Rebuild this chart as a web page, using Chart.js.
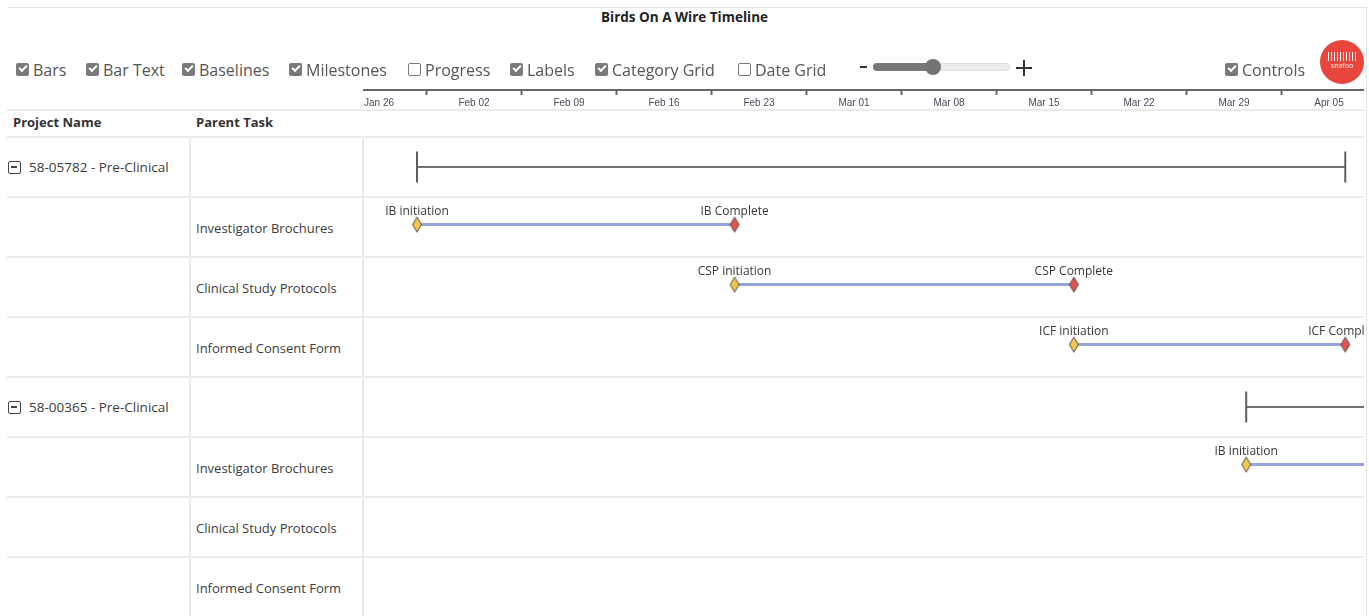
<!DOCTYPE html>
<html>
<head>
<meta charset="utf-8">
<title>Birds On A Wire Timeline</title>
<script src="https://cdn.jsdelivr.net/npm/chart.js@4.4.1/dist/chart.umd.min.js"></script>
<style>
  body { margin: 0; width: 1369px; height: 616px; overflow: hidden; background: #fff; position: relative; font-family: "Open Sans", sans-serif; }
  .abs { position: absolute; }
  .hl { position: absolute; height: 2px; background: #ebebeb; }
  .vl { position: absolute; width: 2px; background: #ebebeb; }
  #title { top: 9px; left: 0; width: 1369px; text-align: center; font-weight: bold; font-size: 13.5px; line-height: 16px; color: #222; }
  .opt { position: absolute; top: 59px; height: 22px; font-size: 16px; line-height: 22px; color: #555; white-space: nowrap; }
  .opt .cb { position: absolute; left: 0; top: 4px; width: 13px; height: 13px; border-radius: 2px; box-sizing: border-box; }
  .opt .cb.on { background: #7a7a7a; }
  .opt .cb.on::after { content: ""; position: absolute; left: 3px; top: 2px; width: 6px; height: 3px; border-left: 2px solid #fff; border-bottom: 2px solid #fff; transform: rotate(-45deg); }
  .opt .cb.off { background: #fff; border: 1px solid #777; }
  .opt .lbl { position: absolute; left: 17px; top: 0; }
  .cell { position: absolute; font-size: 13px; line-height: 18px; color: #3c3c3c; white-space: nowrap; }
  .cell.proj { font-size: 13.5px; }
  .head { font-weight: bold; color: #333; }
  .toggle { position: absolute; width: 13px; height: 13px; border: 1.6px solid #444; border-radius: 2px; box-sizing: border-box; }
  .toggle::after { content: ""; position: absolute; left: 2px; top: 4px; width: 6px; height: 1.6px; background: #444; }
  #chartBox { position: absolute; left: 363px; top: 80px; }
</style>
</head>
<body>
<div id="chartBox"><canvas id="timeline" width="1001" height="537"></canvas></div>

<div class="abs" style="left:7px;top:7px;width:1360px;height:1px;background:#e4e4e4"></div>
<div class="abs" style="left:1366px;top:7px;width:1px;height:609px;background:#e4e4e4"></div>
<div id="title" class="abs">Birds On A Wire Timeline</div>

<div class="opt" style="left:16px"><span class="cb on"></span><span class="lbl">Bars</span></div>
<div class="opt" style="left:86px"><span class="cb on"></span><span class="lbl">Bar Text</span></div>
<div class="opt" style="left:182px"><span class="cb on"></span><span class="lbl">Baselines</span></div>
<div class="opt" style="left:289px"><span class="cb on"></span><span class="lbl">Milestones</span></div>
<div class="opt" style="left:408px"><span class="cb off"></span><span class="lbl">Progress</span></div>
<div class="opt" style="left:510px"><span class="cb on"></span><span class="lbl">Labels</span></div>
<div class="opt" style="left:595px"><span class="cb on"></span><span class="lbl">Category Grid</span></div>
<div class="opt" style="left:738px"><span class="cb off"></span><span class="lbl">Date Grid</span></div>
<div class="opt" style="left:1225px"><span class="cb on"></span><span class="lbl">Controls</span></div>

<!-- zoom slider -->
<div class="abs" style="left:860px;top:66px;width:7px;height:2px;background:#333"></div>
<div class="abs" style="left:873px;top:63px;width:137px;height:8px;border-radius:4px;background:#ececec;border:1px solid #dcdcdc;box-sizing:border-box"></div>
<div class="abs" style="left:873px;top:63px;width:60px;height:8px;border-radius:4px;background:#787878"></div>
<div class="abs" style="left:925px;top:59px;width:16px;height:16px;border-radius:50%;background:#737373"></div>
<div class="abs" style="left:1016px;top:67px;width:16px;height:2px;background:#333"></div>
<div class="abs" style="left:1023px;top:60px;width:2px;height:16px;background:#333"></div>

<!-- logo -->
<div class="abs" style="left:1320px;top:40px;width:44px;height:44px;border-radius:50%;background:#e8463c">
  <div class="abs" style="left:8px;top:12px;width:28px;height:9px;background:repeating-linear-gradient(90deg,#fff 0 1.5px,transparent 1.5px 3px)"></div>
  <div class="abs" style="left:0;top:21px;width:44px;text-align:center;font-size:7px;line-height:9px;color:#fff">snafoo</div>
</div>

<!-- table header -->
<div class="hl" style="left:7px;top:109px;width:1358px"></div>
<div class="cell head" style="left:13px;top:113px">Project Name</div>
<div class="cell head" style="left:196px;top:113px">Parent Task</div>
<div id="table"></div>

<script>
// timeline axis: days counted from Jan 26
const tickLabels = ['Jan 26', 'Feb 02', 'Feb 09', 'Feb 16', 'Feb 23', 'Mar 01', 'Mar 08', 'Mar 15', 'Mar 22', 'Mar 29', 'Apr 05'];
const tickDays = [0, 7, 14, 21, 28, 35, 42, 49, 56, 63, 70];
const weekMarks = [3.5, 10.5, 17.5, 24.5, 31.5, 38.5, 45.5, 52.5, 59.5, 66.5];
const dayMin = -1.18;
const dayMax = 72.58;

// categories
const projects = ['58-05782 - Pre-Clinical', '58-00365 - Pre-Clinical'];
const tasks = ['Investigator Brochures', 'Clinical Study Protocols', 'Informed Consent Form'];
const startLabels = ['IB initiation', 'CSP initiation', 'ICF initiation'];
const endLabels = ['IB Complete', 'CSP Complete', 'ICF Complete'];

// baselines per project
const baselineStart = [2.8, 63.9];
const baselineEnd = [71.2, 131];

// milestones per project and task (null = none)
const initiation = [[2.8, 26.2, 51.2], [63.9, null, null]];
const completion = [[26.2, 51.2, 71.2], [87.3, null, null]];

const rowPx = 60;
const headerPx = 47;
const rowCount = projects.length * (tasks.length + 1);
const rowLines = [];
for (let i = 0; i <= rowCount; i++) rowLines.push(i);

// left table
const table = document.getElementById('table');
let html = '';
for (let i = 0; i < rowCount; i++) {
  html += '<div class="hl" style="left:7px;top:' + (136 + i * rowPx) + 'px;width:356px"></div>';
}
html += '<div class="vl" style="left:189px;top:137px;height:480px"></div>';
html += '<div class="vl" style="left:362px;top:137px;height:480px"></div>';
projects.forEach((p, pi) => {
  const top = 137 + pi * (tasks.length + 1) * rowPx;
  html += '<div class="toggle" style="left:8px;top:' + (top + 24) + 'px"></div>';
  html += '<div class="cell proj" style="left:29px;top:' + (top + 21) + 'px">' + p + '</div>';
  tasks.forEach((t, ti) => {
    html += '<div class="cell" style="left:196px;top:' + (top + (ti + 1) * rowPx + 22) + 'px">' + t + '</div>';
  });
});
table.innerHTML = html;

function diamond(fill) {
  const c = document.createElement('canvas');
  c.width = 12;
  c.height = 18;
  const g = c.getContext('2d');
  g.beginPath();
  g.moveTo(6, 1.5);
  g.lineTo(10.5, 9);
  g.lineTo(6, 16.5);
  g.lineTo(1.5, 9);
  g.closePath();
  g.fillStyle = fill;
  g.fill();
  g.strokeStyle = '#4f4f4f';
  g.lineWidth = 1;
  g.stroke();
  return c;
}
const startMark = diamond('#f1c84b');
const endMark = diamond('#e5534b');

const datasets = [];
projects.forEach((p, pi) => {
  const row = pi * (tasks.length + 1);
  datasets.push({
    data: [{x: baselineStart[pi], y: row + 0.5}, {x: baselineEnd[pi], y: row + 0.5}],
    borderColor: '#444',
    borderWidth: 1.5,
    pointStyle: 'line',
    pointRotation: 90,
    pointRadius: 15.5,
    pointBorderColor: '#5e5e5e',
    pointBorderWidth: 2
  });
  tasks.forEach((t, ti) => {
    if (initiation[pi][ti] == null) return;
    const y = row + 1 + ti + 0.46;
    datasets.push({
      data: [{x: initiation[pi][ti], y: y}, {x: completion[pi][ti], y: y}],
      borderColor: '#93a4dc',
      borderWidth: 3,
      pointStyle: c => (c.dataIndex === 0 ? startMark : endMark),
      pointRadius: 6,
      milestoneLabels: [startLabels[ti], endLabels[ti]]
    });
  });
});

const milestoneText = {
  id: 'milestoneText',
  afterDatasetsDraw(chart) {
    const {ctx, chartArea: a} = chart;
    ctx.save();
    ctx.beginPath();
    ctx.rect(a.left, a.top, a.right - a.left, a.bottom - a.top);
    ctx.clip();
    ctx.font = '12px "Open Sans"';
    ctx.fillStyle = '#383838';
    ctx.textAlign = 'center';
    ctx.textBaseline = 'middle';
    chart.data.datasets.forEach((ds, i) => {
      if (!ds.milestoneLabels) return;
      chart.getDatasetMeta(i).data.forEach((pt, j) => {
        ctx.fillText(ds.milestoneLabels[j], pt.x, pt.y - 13.5);
      });
    });
    ctx.restore();
  }
};

const allTicks = tickDays.concat(weekMarks).sort((a, b) => a - b);

new Chart(document.getElementById('timeline'), {
  type: 'line',
  data: {datasets: datasets},
  plugins: [milestoneText],
  options: {
    responsive: false,
    animation: false,
    devicePixelRatio: 1,
    events: [],
    layout: {padding: 0, autoPadding: false},
    plugins: {legend: {display: false}, tooltip: {enabled: false}},
    scales: {
      x: {
        type: 'linear',
        position: 'top',
        min: dayMin,
        max: dayMax,
        afterBuildTicks: s => { s.ticks = allTicks.map(v => ({value: v})); },
        afterFit: s => { s.height = 10; s.paddingLeft = 0; s.paddingRight = 0; },
        grid: {
          drawOnChartArea: false,
          drawTicks: true,
          tickLength: -5,
          tickWidth: 2,
          tickColor: c => (c.tick && tickDays.includes(c.tick.value) ? 'rgba(0,0,0,0)' : '#666')
        },
        border: {display: true, color: '#666', width: 2},
        ticks: {
          mirror: true,
          padding: 7,
          autoSkip: false,
          maxRotation: 0,
          minRotation: 0,
          color: '#4a4a5c',
          font: {family: 'Liberation Sans', size: 10},
          callback: v => {
            const i = tickDays.indexOf(v);
            return i < 0 ? '' : tickLabels[i];
          }
        }
      },
      y: {
        type: 'linear',
        reverse: true,
        min: -headerPx / rowPx,
        max: rowCount,
        afterBuildTicks: s => { s.ticks = rowLines.map(v => ({value: v})); },
        afterFit: s => { s.width = 0; },
        grid: {color: '#ebebeb', lineWidth: 2, drawTicks: false},
        border: {display: false},
        ticks: {display: false}
      }
    }
  }
});
</script>
</body>
</html>
